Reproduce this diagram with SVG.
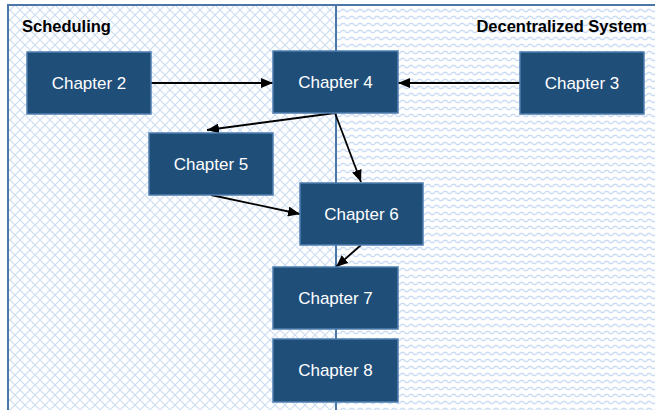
<svg xmlns="http://www.w3.org/2000/svg" width="655" height="410" viewBox="0 0 655 410">
<defs>
<pattern id="lattice" width="10" height="10" patternUnits="userSpaceOnUse">
<path d="M0,0 L10,10 M10,0 L0,10" stroke="#cadcf2" stroke-width="1.1" fill="none"/>
</pattern>
<pattern id="wave" width="8.5" height="7" patternUnits="userSpaceOnUse">
<path d="M0,4.5 C1,4.5 1,2.5 2,2.5 L4.25,2.5 C5.25,2.5 5.25,4.5 6.25,4.5 L8.5,4.5" stroke="#cadcf2" stroke-width="1.3" fill="none"/>
</pattern>
<marker id="arr" markerWidth="12" markerHeight="10" refX="12" refY="5" orient="auto" markerUnits="userSpaceOnUse">
<path d="M0,0 L12,5 L0,10 Z" fill="#000"/>
</marker>
</defs>
<style>
.box{fill:#1f4e79;stroke:#4f7fb0;stroke-width:1.5}
.lbl{font-family:"Liberation Sans",Arial,sans-serif;font-size:17px;fill:#fff;text-anchor:middle}
.ttl{font-family:"Liberation Sans",Arial,sans-serif;font-size:16.5px;font-weight:bold;fill:#000}
.con{stroke:#000;stroke-width:1.8;fill:none;marker-end:url(#arr)}
.lane{stroke:#4a76a8;stroke-width:2}
</style>
<rect width="655" height="410" fill="#fff"/>
<g id="lane-scheduling">
<rect x="8" y="6" width="328" height="404" fill="url(#lattice)"/>
<text class="ttl" x="22" y="32">Scheduling</text>
</g>
<g id="lane-decentralized">
<rect x="337" y="6" width="318" height="404" fill="url(#wave)"/>
<text class="ttl" x="647" y="32" text-anchor="end">Decentralized System</text>
</g>
<g id="lanes">
<line class="lane" x1="7" y1="5" x2="655" y2="5"/>
<line class="lane" x1="8" y1="5" x2="8" y2="410"/>
<line class="lane" x1="336" y1="5" x2="336" y2="410"/>
</g>
<g id="connectors">
<line class="con" x1="151" y1="83" x2="273" y2="83"/>
<line class="con" x1="520" y1="83" x2="398" y2="83"/>
<line class="con" x1="335" y1="113" x2="207" y2="130"/>
<line class="con" x1="335" y1="113" x2="361" y2="182"/>
<line class="con" x1="211" y1="195" x2="300" y2="214"/>
<line class="con" x1="361" y1="245" x2="336" y2="267"/>
</g>
<g id="ch2"><rect class="box" x="27" y="52" width="124" height="62"/><text class="lbl" x="89" y="89">Chapter 2</text></g>
<g id="ch4"><rect class="box" x="273" y="51" width="125" height="62"/><text class="lbl" x="335.5" y="88">Chapter 4</text></g>
<g id="ch3"><rect class="box" x="520" y="52" width="124" height="62"/><text class="lbl" x="582" y="89">Chapter 3</text></g>
<g id="ch5"><rect class="box" x="149" y="133" width="124" height="62"/><text class="lbl" x="211" y="170">Chapter 5</text></g>
<g id="ch6"><rect class="box" x="300" y="183" width="123" height="62"/><text class="lbl" x="361.5" y="220">Chapter 6</text></g>
<g id="ch7"><rect class="box" x="273" y="267" width="125" height="62"/><text class="lbl" x="335.5" y="304">Chapter 7</text></g>
<g id="ch8"><rect class="box" x="273" y="339" width="125" height="63"/><text class="lbl" x="335.5" y="376">Chapter 8</text></g>
</svg>
